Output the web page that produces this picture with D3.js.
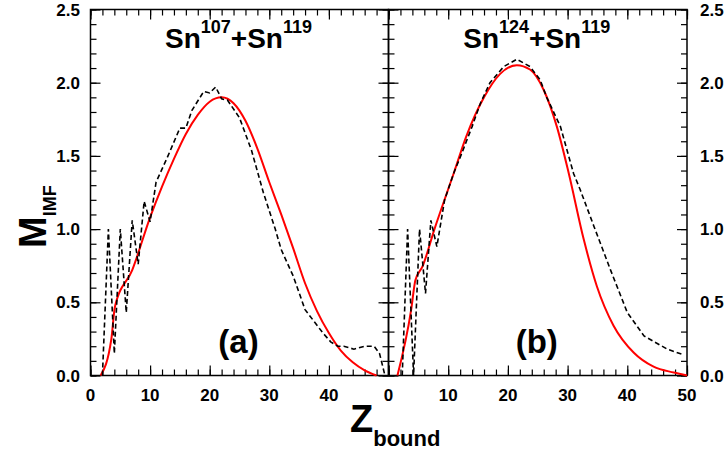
<!DOCTYPE html>
<html>
<head>
<meta charset="utf-8">
<script src="https://cdn.jsdelivr.net/npm/d3@7"></script>
<style>
  body { margin: 0; background: #fff; }
  svg text { font-family: "Liberation Sans", Arial, sans-serif; font-weight: bold; fill: #000; }
  .axis path { display: none; }
  .axis line { stroke: #000; stroke-width: 1.2; }
</style>
</head>
<body>
<div id="chart"></div>
<script>
// values
const zTicks = [0, 10, 20, 30, 40, 50];
const mTicks = [0, 0.5, 1.0, 1.5, 2.0, 2.5];

// panel (a) Sn107+Sn119
const expZa = [2, 3, 4, 5, 6, 7, 8, 9, 10, 11, 13, 15, 16, 17, 19, 20, 21, 22, 23, 25, 27, 29, 31, 32, 34, 36, 39, 40.3, 41.5, 42.5, 44.2, 46, 47.6, 48.5, 49.4];
const expMa = [0, 1.0, 0.15, 1.0, 0.43, 1.06, 0.76, 1.19, 1.05, 1.32, 1.5, 1.69, 1.69, 1.81, 1.94, 1.93, 1.97, 1.89, 1.88, 1.76, 1.54, 1.25, 1.0, 0.86, 0.68, 0.45, 0.29, 0.23, 0.2, 0.2, 0.18, 0.2, 0.2, 0.15, 0.0];
const modZa = [1.7, 3.5, 4.1, 7, 10, 12, 14, 16, 18, 20, 22, 24, 26, 28, 30, 32, 34, 36, 38, 40, 42, 44, 46, 48];
const modMa = [0, 0.25, 0.47, 0.72, 1.08, 1.29, 1.48, 1.65, 1.78, 1.87, 1.90, 1.86, 1.74, 1.55, 1.32, 1.1, 0.87, 0.63, 0.44, 0.29, 0.17, 0.09, 0.035, 0];

// panel (b) Sn124+Sn119
const expZb = [2.3, 3.2, 4.2, 5.2, 6.2, 7.1, 8.1, 9.4, 11, 12.3, 14, 15.4, 17, 19.3, 21.5, 23.7, 25.4, 26.5, 28.8, 31, 32.1, 34.4, 37.2, 40, 42.8, 46.7, 49.5];
const expMb = [0, 1.0, 0, 1.0, 0.56, 1.06, 0.88, 1.2, 1.39, 1.52, 1.7, 1.86, 2.0, 2.11, 2.16, 2.11, 2.02, 1.90, 1.70, 1.38, 1.27, 1.02, 0.72, 0.43, 0.27, 0.18, 0.14];
const modZb = [1.5, 3.8, 4.5, 5.7, 7.7, 11, 13, 16, 18.7, 21.5, 23.7, 26, 28.2, 30.2, 32.7, 34.9, 37.7, 41.1, 44.4, 47.8, 50];
const modMb = [0, 0.45, 0.65, 0.745, 1.0, 1.39, 1.63, 1.90, 2.06, 2.12, 2.09, 1.95, 1.70, 1.38, 0.93, 0.61, 0.34, 0.155, 0.06, 0.02, 0];

const width = 727, height = 450;
const plotTop = 9.5, plotBottom = 375.5;

const svg = d3.select('#chart').append('svg').attr('width', width).attr('height', height);

const y = d3.scaleLinear().domain([0, 2.5]).range([plotBottom, plotTop]);
const minorM = d3.range(0, 2.51, 0.1).map(v => +v.toFixed(1));
const minorZ = d3.range(0, 51, 2);

function panel(x0, x1, title, sup1, sup2, letter, expZ, expM, modZ, modM, side, lastLabel) {
  const x = d3.scaleLinear().domain([0, 50]).range([x0, x1]);
  const g = svg.append('g');

  // inward ticks on all four sides
  const addAxis = (gen, tx, ty) => g.append('g').attr('class', 'axis')
      .attr('transform', 'translate(' + tx + ',' + ty + ')').call(gen)
      .call(s => s.selectAll('text').remove());
  addAxis(d3.axisBottom(x).tickValues(minorZ).tickSize(-6), 0, plotBottom);
  addAxis(d3.axisBottom(x).tickValues(zTicks).tickSize(-10), 0, plotBottom);
  addAxis(d3.axisTop(x).tickValues(minorZ).tickSize(-6), 0, plotTop);
  addAxis(d3.axisTop(x).tickValues(zTicks).tickSize(-10), 0, plotTop);
  addAxis(d3.axisLeft(y).tickValues(minorM).tickSize(-6), x0, 0);
  addAxis(d3.axisLeft(y).tickValues(mTicks).tickSize(-10), x0, 0);
  addAxis(d3.axisRight(y).tickValues(minorM).tickSize(-6), x1, 0);
  addAxis(d3.axisRight(y).tickValues(mTicks).tickSize(-10), x1, 0);

  g.append('rect').attr('x', x0).attr('y', plotTop).attr('width', x1 - x0).attr('height', plotBottom - plotTop)
    .attr('fill', 'none').attr('stroke', '#000').attr('stroke-width', 1.5);

  // x tick labels
  g.selectAll('.xl').data(lastLabel ? zTicks : zTicks.slice(0, -1)).join('text')
    .attr('x', d => x(d)).attr('y', 401).attr('text-anchor', 'middle')
    .style('font-size', '17px').text(d => d);

  // y tick labels
  if (side === 'left') {
    g.selectAll('.yl').data(mTicks).join('text')
      .attr('x', 80).attr('y', d => y(d) + 6).attr('text-anchor', 'end')
      .style('font-size', '17px').text(d => d.toFixed(1));
  } else {
    g.selectAll('.yl').data(mTicks).join('text')
      .attr('x', 700).attr('y', d => y(d) + 6).attr('text-anchor', 'start')
      .style('font-size', '17px').text(d => d.toFixed(1));
  }

  const cx = (x0 + x1) / 2 - 1;
  const t = g.append('text').attr('x', cx).attr('y', 48).attr('text-anchor', 'middle').style('font-size', '28px');
  t.append('tspan').text(title);
  t.append('tspan').attr('dy', -15).style('font-size', '18px').text(sup1);
  t.append('tspan').attr('dy', 15).text('+' + title);
  t.append('tspan').attr('dy', -15).style('font-size', '18px').text(sup2);

  g.append('text').attr('x', cx).attr('y', 353).attr('text-anchor', 'middle')
    .style('font-size', '33px').text(letter);

  const line = d3.line().x(d => x(d[0])).y(d => y(d[1]));
  g.append('path').datum(d3.zip(modZ, modM))
    .attr('d', line.curve(d3.curveMonotoneX))
    .attr('fill', 'none').attr('stroke', '#ff0000').attr('stroke-width', 2);
  g.append('path').datum(d3.zip(expZ, expM))
    .attr('d', d3.line().x(d => x(d[0])).y(d => y(d[1])))
    .attr('fill', 'none').attr('stroke', '#000').attr('stroke-width', 1.6)
    .attr('stroke-dasharray', '5,3');
}

panel(90.5, 388.5, 'Sn', '107', '119', '(a)', expZa, expMa, modZa, modMa, 'left', false);
panel(388.5, 687, 'Sn', '124', '119', '(b)', expZb, expMb, modZb, modMb, 'right', true);

// axis titles
const xt = svg.append('text').attr('x', 350).attr('y', 432).style('font-size', '38px');
xt.append('tspan').text('Z');
xt.append('tspan').attr('dy', 14).style('font-size', '22px').text('bound');

const yt = svg.append('text').attr('transform', 'translate(46,248) rotate(-90)').style('font-size', '38px');
yt.append('tspan').text('M');
yt.append('tspan').attr('dy', 10).style('font-size', '18px').text('IMF');
</script>
</body>
</html>
